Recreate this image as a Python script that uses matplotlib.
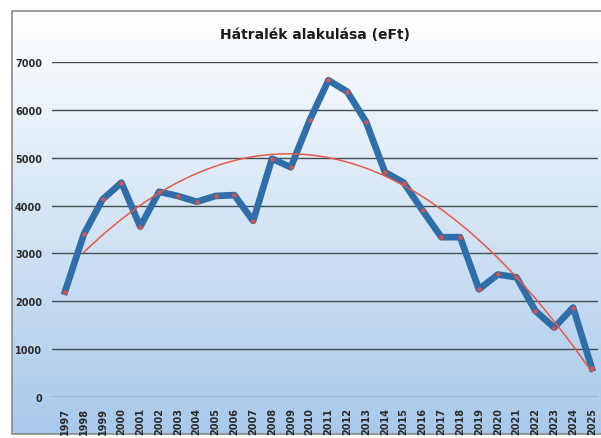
"""
Hátralék alakulása (eFt) - vonaldiagram trendvonallal
"""

import matplotlib
matplotlib.use("Agg")
import matplotlib.pyplot as plt
import numpy as np

# adatok
evek = list(range(1997, 2026))
hatralek = [2200, 3400, 4130, 4480, 3560, 4290, 4200, 4080, 4200, 4220,
            3680, 4980, 4800, 5780, 6620, 6380, 5750, 4700, 4480, 3900,
            3340, 3340, 2250, 2560, 2500, 1800, 1450, 1870, 600]
y_ticks = [0, 1000, 2000, 3000, 4000, 5000, 6000, 7000]

fig = plt.figure(figsize=(6.01, 4.39), dpi=100)

# hatter szinatmenet (feher -> vilagoskek), csak a kereten belul
bg = fig.add_axes([0, 0, 1, 1], zorder=-10)
grad = np.linspace(0, 1, 256).reshape(-1, 1)
top = np.array([1.0, 1.0, 1.0])
bottom = np.array([0.66, 0.79, 0.92])
img = top + (bottom - top) * grad[:, :, None]
x0, x1 = 12/601, 1.0
y0, y1 = 1-435/439, 1-12/439
bg.imshow(img, aspect="auto", extent=[x0, x1, y0, y1])
bg.set_xlim(0, 1)
bg.set_ylim(0, 1)
bg.axis("off")
# keret
bg.plot([x1 + 0.01, x0, x0, x1 + 0.01], [y1, y1, y0, y0], color="#8a8a8a", lw=1.2)

ax = fig.add_axes([0.0862, 0.0934, 0.908, 0.763])
ax.patch.set_alpha(0)
x = np.array(evek)
y = np.array(hatralek)

ax.plot(x, y, color="#2f6ea8", lw=4.8, solid_joinstyle="round", zorder=3)
ax.plot(x, y, "o", color="#d9534f", ms=3.2, mec="none", zorder=5)

# masodfoku polinom trend
p = np.polyfit(x - 1997, y, 2)
xt = np.linspace(1998, 2025, 200)
ax.plot(xt, np.polyval(p, xt - 1997), color="#e8584a", lw=1.1, zorder=4)

ax.set_xlim(1996.3, 2025.3)
ax.set_ylim(0, 7000)
ax.set_yticks(y_ticks)
ax.set_yticklabels([str(v) for v in y_ticks], fontsize=7, fontweight="bold", color="#2a2a2a")
ax.set_xticks(evek)
ax.set_xticklabels([str(v) for v in evek], rotation=90, fontsize=7, fontweight="bold", color="#2a2a2a")
ax.tick_params(length=0, pad=7)
ax.yaxis.grid(True, color="#3f4f4f", lw=1.0)
ax.set_axisbelow(True)
for s in ax.spines.values():
    s.set_visible(False)

fig.text(0.524, 1-35/439, "Hátralék alakulása (eFt)", ha="center", va="center",
         fontsize=10, fontweight="bold", color="#1a1a1a")

fig.savefig("out.png", dpi=100)
